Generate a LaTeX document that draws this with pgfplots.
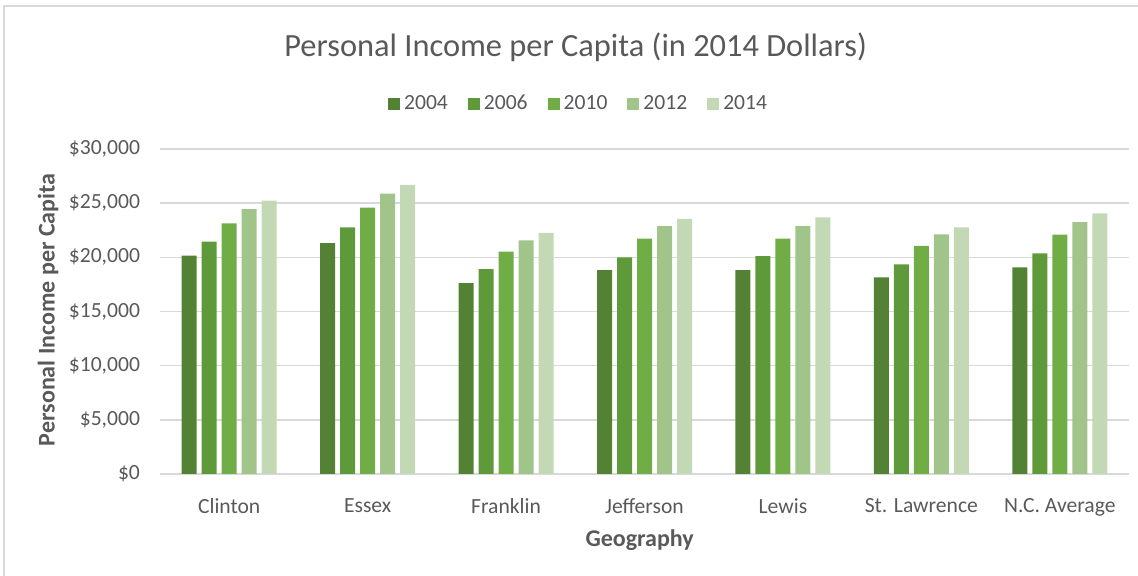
\documentclass[border=0pt]{standalone}
\usepackage{fontspec}
\setmainfont{Carlito}
\usepackage{pgfplots}
\pgfplotsset{compat=1.18}

\definecolor{txt}{HTML}{595959}
\definecolor{gridc}{HTML}{D9D9D9}
\definecolor{cA}{HTML}{548235}
\definecolor{cB}{HTML}{5F9A3A}
\definecolor{cC}{HTML}{70AD47}
\definecolor{cD}{HTML}{A1C48A}
\definecolor{cE}{HTML}{C3D8B4}

\begin{document}
\begin{tikzpicture}
\useasboundingbox (-80pt,-51pt) rectangle (489pt,237pt);
\draw[gridc, line width=0.8pt] (-78pt,-51pt) -- (-78pt,234pt) -- (489pt,234pt);
\begin{axis}[
  at={(0pt,0pt)}, anchor=south west,
  scale only axis,
  width=484.5pt, height=162.5pt,
  ybar=2.5pt, bar width=7.5pt,
  xmin=-0.5, xmax=6.5,
  ymin=0, ymax=30000,
  ytick={0,5000,10000,15000,20000,25000,30000},
  xtick=data,
  xticklabels={Clinton, Essex, Franklin, Jefferson, Lewis, St. Lawrence, N.C. Average},
  scaled y ticks=false,
  /pgf/number format/assume math mode=true,
  /pgf/number format/1000 sep={,},
  yticklabel={\$\pgfmathprintnumber{\tick}},
  axis line style={draw=none},
  tick style={draw=none},
  ymajorgrids, grid style={gridc, line width=0.8pt},
  ticklabel style={text=txt, font=\fontsize{10.8}{12}\selectfont},
  xticklabel style={yshift=-4.5pt},
  yticklabel style={xshift=-6.5pt},
  xlabel={Geography},
  ylabel={Personal Income per Capita},
  label style={text=txt, font=\bfseries\fontsize{12}{14}\selectfont},
  xlabel style={at={(axis description cs:0.495,-0.203)}, anchor=center},
  ylabel style={at={(axis description cs:-0.1156,0.505)}, anchor=center, rotate=0},
  title={Personal Income per Capita (in 2014 Dollars)},
  title style={at={(axis description cs:0.429,1.277)}, anchor=center, text=txt, font=\fontsize{16.2}{19}\selectfont},
  legend columns=5,
  legend style={draw=none, fill=none, at={(axis description cs:0.433,1.138)}, anchor=center,
    font=\fontsize{10.8}{12}\selectfont, text=txt, /tikz/every even column/.append style={column sep=8pt}},
  legend image code/.code={\fill[#1,draw=none] (0pt,-3pt) rectangle (6pt,3pt);},
]
\addplot[fill=cA, draw=none] coordinates {(0,20150) (1,21300) (2,17630) (3,18830) (4,18830) (5,18150) (6,19080)};
\addplot[fill=cB, draw=none] coordinates {(0,21450) (1,22770) (2,18920) (3,20000) (4,20120) (5,19360) (6,20370)};
\addplot[fill=cC, draw=none] coordinates {(0,23140) (1,24580) (2,20520) (3,21720) (4,21720) (5,21050) (6,22100)};
\addplot[fill=cD, draw=none] coordinates {(0,24460) (1,25870) (2,21570) (3,22890) (4,22890) (5,22120) (6,23260)};
\addplot[fill=cE, draw=none] coordinates {(0,25230) (1,26680) (2,22250) (3,23540) (4,23690) (5,22770) (6,24060)};
\legend{2004,2006,2010,2012,2014}
\end{axis}
\end{tikzpicture}
\end{document}
